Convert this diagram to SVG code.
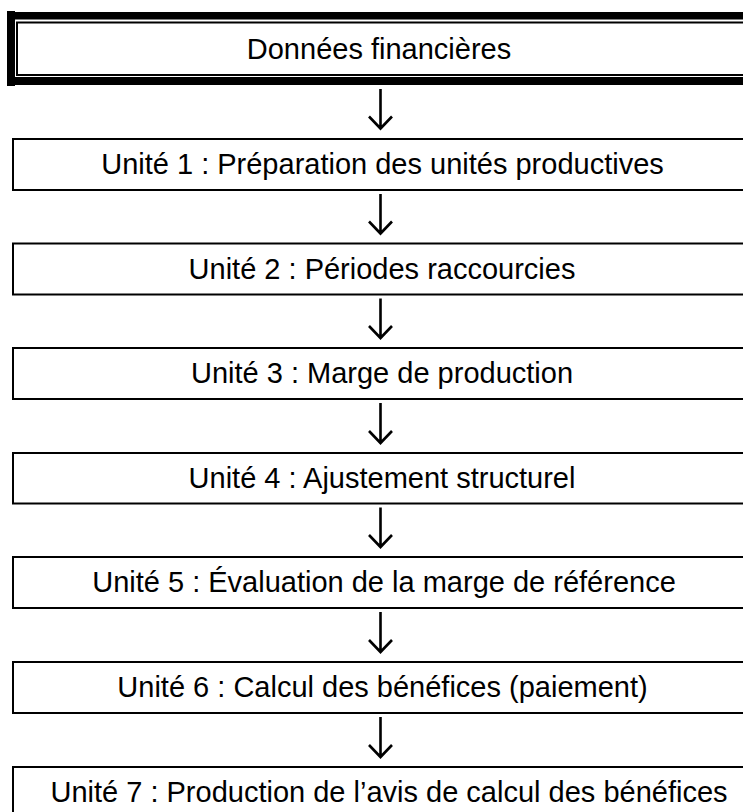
<svg xmlns="http://www.w3.org/2000/svg" width="743" height="812" viewBox="0 0 743 812">
  <style>
    .box { fill: #ffffff; stroke: #000000; stroke-width: 2; }
    .lbl { font-family: "Liberation Sans", Arial, sans-serif; font-size: 29px; fill: #000000; text-anchor: middle; }
    .arr { fill: none; stroke: #000000; stroke-width: 2.6; }
  </style>
  <rect x="0" y="0" width="743" height="812" fill="#ffffff"/>
  <g id="node-donnees">
    <rect x="7" y="12" width="750" height="7.5" fill="#000000"/>
    <rect x="7" y="77" width="750" height="8" fill="#000000"/>
    <rect x="7" y="11" width="8" height="75" fill="#000000"/>
    <rect x="17" y="22.5" width="750" height="52.5" fill="none" stroke="#000000" stroke-width="2"/>
    <text class="lbl" x="379" y="59">Données financières</text>
  </g>
  <g id="node-unite1">
    <rect class="box" x="13" y="139" width="740" height="51"/>
    <text class="lbl" x="382.5" y="174">Unité 1 : Préparation des unités productives</text>
  </g>
  <g id="node-unite2">
    <rect class="box" x="13" y="243.5" width="740" height="51"/>
    <text class="lbl" x="382" y="278.5">Unité 2 : Périodes raccourcies</text>
  </g>
  <g id="node-unite3">
    <rect class="box" x="13" y="348" width="740" height="51"/>
    <text class="lbl" x="382" y="383">Unité 3 : Marge de production</text>
  </g>
  <g id="node-unite4">
    <rect class="box" x="13" y="453" width="740" height="50.5"/>
    <text class="lbl" x="382" y="487.5">Unité 4 : Ajustement structurel</text>
  </g>
  <g id="node-unite5">
    <rect class="box" x="13" y="557" width="740" height="51"/>
    <text class="lbl" x="384" y="592">Unité 5 : Évaluation de la marge de référence</text>
  </g>
  <g id="node-unite6">
    <rect class="box" x="13" y="662" width="740" height="51"/>
    <text class="lbl" x="382.5" y="697">Unité 6 : Calcul des bénéfices (paiement)</text>
  </g>
  <g id="node-unite7">
    <rect class="box" x="13" y="767" width="740" height="60"/>
    <text class="lbl" x="389" y="802">Unité 7 : Production de l’avis de calcul des bénéfices</text>
  </g>
  <g id="connectors">
    <path class="arr" d="M380.5,89 V128.5 M369,116.5 L380.5,128.5 L392,116.5"/>
    <path class="arr" d="M380.5,194 V233.5 M369,221.5 L380.5,233.5 L392,221.5"/>
    <path class="arr" d="M380.5,298.5 V338 M369,326 L380.5,338 L392,326"/>
    <path class="arr" d="M380.5,403 V443 M369,431 L380.5,443 L392,431"/>
    <path class="arr" d="M380.5,507.5 V547 M369,535 L380.5,547 L392,535"/>
    <path class="arr" d="M380.5,612 V652 M369,640 L380.5,652 L392,640"/>
    <path class="arr" d="M380.5,717 V757 M369,745 L380.5,757 L392,745"/>
  </g>
</svg>
